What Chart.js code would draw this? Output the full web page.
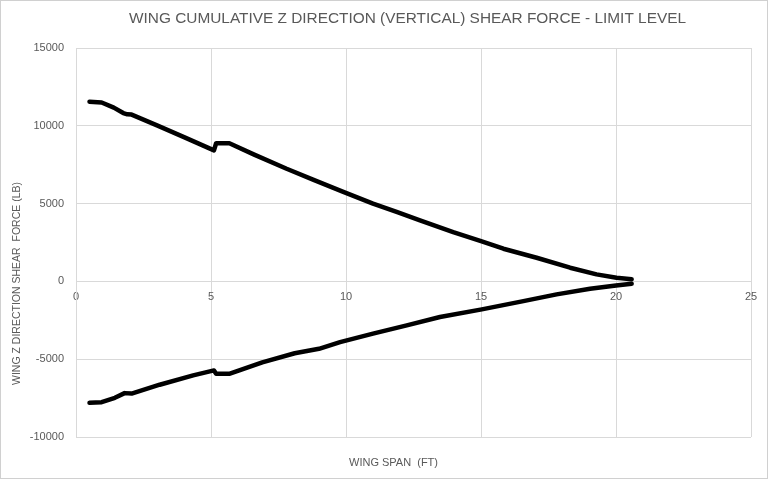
<!DOCTYPE html>
<html>
<head>
<meta charset="utf-8">
<script src="https://cdn.jsdelivr.net/npm/chart.js@4.4.1/dist/chart.umd.min.js"></script>
<style>
  html, body { margin: 0; padding: 0; background: #fff; }
  #wrap { position: relative; width: 768px; height: 479px; box-sizing: border-box; }
  canvas { display: block; }
</style>
</head>
<body>
<div id="wrap"><canvas id="c" width="768" height="479"></canvas></div>
<script>
// ---- data ----
const spanUpper  = [0.5, 0.95, 1.4, 1.75, 1.9, 2.06, 3.0, 4.0, 5.11, 5.19, 5.68, 6.6, 7.8, 8.8, 9.9, 11.0, 11.9, 12.74, 13.97, 15.0, 15.83, 17.06, 18.3, 19.28, 20.02, 20.58];
const shearUpper = [11550, 11500, 11170, 10820, 10740, 10720, 10030, 9270, 8420, 8880, 8880, 8150, 7240, 6530, 5750, 5000, 4450, 3920, 3170, 2590, 2100, 1520, 880, 450, 240, 140];
const spanLower  = [0.5, 0.95, 1.44, 1.8, 2.06, 3.1, 4.34, 5.11, 5.19, 5.7, 6.9, 8.1, 9.0, 9.78, 11.0, 12.25, 13.48, 15.03, 16.57, 17.8, 19.04, 20.0, 20.58];
const shearLower = [-7800, -7760, -7480, -7180, -7210, -6640, -6040, -5720, -5930, -5930, -5200, -4620, -4330, -3900, -3360, -2830, -2290, -1800, -1266, -835, -470, -257, -150];
const xTicks = [0, 5, 10, 15, 20, 25];
const yTicks = [-10000, -5000, 0, 5000, 10000, 15000];

const chartTitle = 'WING CUMULATIVE Z DIRECTION (VERTICAL) SHEAR FORCE - LIMIT LEVEL';
const xTitle = 'WING SPAN  (FT)';
const yTitle = 'WING Z DIRECTION SHEAR  FORCE (LB)';

const toPts = (xs, ys) => xs.map((x, i) => ({ x: x, y: ys[i] }));

const FONT = '"Liberation Sans Narrow", "Liberation Sans", Arial, sans-serif';
const TEXT = '#595959';
const GRID = '#d9d9d9';

const textPlugin = {
  id: 'texts',
  afterDraw(chart) {
    const ctx = chart.ctx;
    const a = chart.chartArea;
    ctx.save();
    // outer border
    ctx.strokeStyle = '#d0d0d0';
    ctx.lineWidth = 1;
    ctx.strokeRect(0.5, 0.5, chart.width - 1, chart.height - 1);
    ctx.fillStyle = TEXT;
    ctx.textBaseline = 'middle';
    ctx.textAlign = 'center';
    // title
    ctx.font = '15.4px ' + FONT;
    ctx.fillText(chartTitle, (a.left + a.right) / 2 - 6, 19);
    // x title
    ctx.font = '11px ' + FONT;
    ctx.fillText(xTitle, (a.left + a.right) / 2 - 20, a.bottom + 26);
    // y title
    ctx.font = '10.5px ' + FONT;
    ctx.translate(17, (a.top + a.bottom) / 2 + 41);
    ctx.rotate(-Math.PI / 2);
    ctx.fillText(yTitle, 0, 0);
    ctx.restore();
  }
};

new Chart(document.getElementById('c'), {
  type: 'scatter',
  data: {
    datasets: [
      { label: 'Upper', data: toPts(spanUpper, shearUpper), showLine: true, borderColor: '#000', backgroundColor: '#000',
        borderWidth: 4.5, pointRadius: 0, tension: 0, borderJoinStyle: 'round', borderCapStyle: 'round' },
      { label: 'Lower', data: toPts(spanLower, shearLower), showLine: true, borderColor: '#000', backgroundColor: '#000',
        borderWidth: 4.5, pointRadius: 0, tension: 0, borderJoinStyle: 'round', borderCapStyle: 'round' }
    ]
  },
  options: {
    responsive: false,
    animation: false,
    layout: { padding: { top: 48, right: 17, bottom: 42, left: 0 } },
    plugins: { legend: { display: false }, tooltip: { enabled: false }, title: { display: false } },
    scales: {
      x: {
        type: 'linear',
        position: { y: 0 },
        min: xTicks[0], max: xTicks[xTicks.length - 1],
        afterBuildTicks: s => { s.ticks = xTicks.map(v => ({ value: v })); },
        grid: { color: GRID, drawTicks: false, lineWidth: 1 },
        border: { color: GRID },
        ticks: { color: TEXT, font: { family: FONT, size: 11 }, padding: 9, maxRotation: 0 }
      },
      y: {
        type: 'linear',
        min: yTicks[0], max: yTicks[yTicks.length - 1],
        afterBuildTicks: s => { s.ticks = yTicks.map(v => ({ value: v })); },
        afterFit: s => { s.width = 76; },
        grid: { color: GRID, drawTicks: false, lineWidth: 1 },
        border: { color: GRID },
        ticks: { color: TEXT, font: { family: FONT, size: 11 }, padding: 12, callback: v => String(v) }
      }
    }
  },
  plugins: [textPlugin]
});
</script>
</body>
</html>
